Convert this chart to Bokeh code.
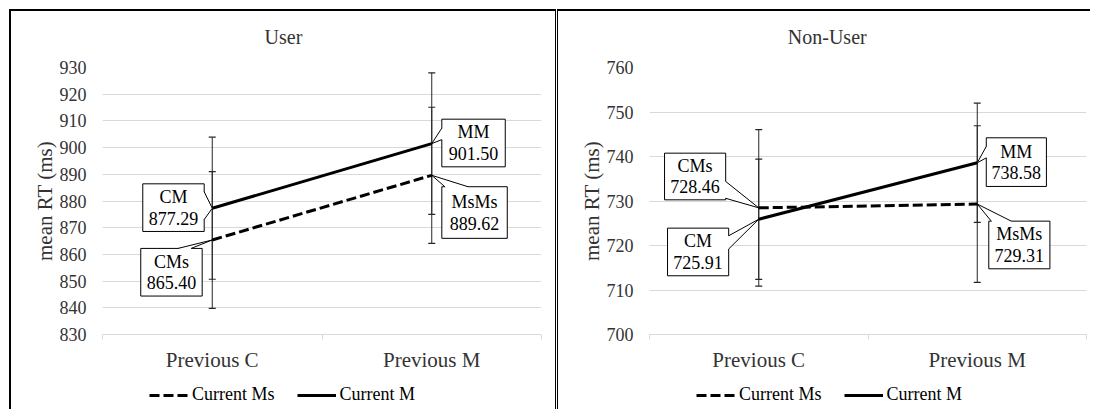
from bokeh.plotting import figure
from bokeh.models import Range1d, FixedTicker, Legend, LegendItem
from bokeh.layouts import row, column
from bokeh.embed import file_html
from bokeh.resources import INLINE
from bokeh.core.properties import value

# ---------------- data ----------------
categories = ["Previous C", "Previous M"]
series_names = ["Current Ms", "Current M"]

user_title = "User"
user_ms = [865.40, 889.62]
user_m = [877.29, 901.50]
user_ms_err = [25.6, 25.5]
user_m_err = [26.6, 26.5]
user_ms_tags = ["CMs", "MsMs"]
user_m_tags = ["CM", "MM"]
user_ticks = [830, 840, 850, 860, 870, 880, 890, 900, 910, 920, 930]

nonuser_title = "Non-User"
nonuser_ms = [728.46, 729.31]
nonuser_m = [725.91, 738.58]
nonuser_ms_err = [17.6, 17.6]
nonuser_m_err = [13.5, 13.4]
nonuser_ms_tags = ["CMs", "MsMs"]
nonuser_m_tags = ["CM", "MM"]
nonuser_ticks = [700, 710, 720, 730, 740, 750, 760]

y_label = "mean RT (ms)"

# ---------------- style / layout ----------------
FONT = "Liberation Serif"
TXT = "#333333"
GRID = "#d9d9d9"
FRAME_W = 436
FRAME_H = 269
TITLE_H = 40
MS_DASH = "10 4"


def dx(px):
    return px * len(categories) / FRAME_W


def main_plot(ms, m, ms_err, m_err, ms_tags, m_tags, ticks, callouts,
              width, mb_right, styles):
    y0, y1 = ticks[0], ticks[-1]
    p = figure(width=width, height=323, x_range=Range1d(0, len(categories)),
               y_range=Range1d(y0, y1), output_backend="svg", title=None,
               toolbar_location=None, min_border_left=91, min_border_right=mb_right,
               min_border_top=16, min_border_bottom=38, styles=styles)
    p.outline_line_color = None
    p.background_fill_color = "white"
    p.border_fill_color = "white"

    xs = [i + 0.5 for i in range(len(categories))]

    def dy(px):
        return -px * (y1 - y0) / FRAME_H

    # axes
    xa = p.xaxis[0]
    xa.ticker = FixedTicker(ticks=xs, minor_ticks=list(range(len(categories) + 1)))
    xa.major_label_overrides = {x: c for x, c in zip(xs, categories)}
    xa.major_tick_out = 0
    xa.major_tick_in = 0
    xa.minor_tick_out = 5
    xa.minor_tick_in = 0
    xa.minor_tick_line_color = GRID
    xa.axis_line_color = GRID
    xa.major_label_standoff = 8
    xa.major_label_text_font = FONT
    xa.major_label_text_font_size = "21px"
    xa.major_label_text_color = TXT

    ya = p.yaxis[0]
    ya.ticker = FixedTicker(ticks=ticks)
    ya.axis_line_color = None
    ya.major_tick_line_color = None
    ya.minor_tick_line_color = None
    ya.major_tick_out = 0
    ya.major_label_standoff = 16
    ya.major_label_text_font = FONT
    ya.major_label_text_font_size = "18px"
    ya.major_label_text_color = TXT
    ya.axis_label = y_label
    ya.axis_label_text_font = FONT
    ya.axis_label_text_font_style = "normal"
    ya.axis_label_text_font_size = "21px"
    ya.axis_label_text_color = TXT
    ya.axis_label_standoff = 0

    p.xgrid.grid_line_color = None
    p.ygrid.ticker = FixedTicker(ticks=ticks)
    p.ygrid.grid_line_color = GRID
    p.ygrid.grid_line_width = 1

    # error bars
    for vals, errs in ((ms, ms_err), (m, m_err)):
        lo = [v - e for v, e in zip(vals, errs)]
        hi = [v + e for v, e in zip(vals, errs)]
        p.segment(xs, lo, xs, hi, line_color="#262626", line_width=1)
        p.scatter(xs + xs, lo + hi, marker="dash", size=7, line_color="#262626",
                  line_width=1.2)

    # series lines
    p.line(xs, ms, line_color="black", line_width=3, line_dash=MS_DASH)
    p.line(xs, m, line_color="black", line_width=3)

    # callouts
    series = {"ms": (ms, ms_tags), "m": (m, m_tags)}
    for c in callouts:
        vals, tags = series[c["s"]]
        i = c["i"]
        px, py = xs[i], vals[i]
        cx, cy = c["off"]
        w, h = c["size"]
        left, right = px + dx(cx - w / 2), px + dx(cx + w / 2)
        top, bottom = py + dy(cy - h / 2), py + dy(cy + h / 2)
        p.quad(left=[left], right=[right], top=[top], bottom=[bottom],
               fill_color="white", line_color="black", line_width=1)
        (bx1, by1), (bx2, by2) = c["base"]

        def inward(bx, by):
            vx, vy = cx - bx, cy - by
            n = (vx * vx + vy * vy) ** 0.5
            return bx + 3 * vx / n, by + 3 * vy / n
        ix1, iy1 = inward(bx1, by1)
        ix2, iy2 = inward(bx2, by2)
        poly = [(ix1, iy1), (bx1, by1), (0, 0), (bx2, by2), (ix2, iy2)]
        p.patch([px + dx(a) for a, b in poly], [py + dy(b) for a, b in poly],
                fill_color="white", line_color=None)
        p.line([px + dx(bx1), px, px + dx(bx2)], [py + dy(by1), py, py + dy(by2)],
               line_color="black", line_width=1)
        p.text([px + dx(cx)] * 2, [py + dy(cy)] * 2, text=[tags[i], f"{vals[i]:.2f}"],
               y_offset=[-10.5, 10.5], text_align="center", text_baseline="middle",
               text_font=value(FONT), text_font_size="18px", text_color="black")
    return p


def strip(width, height, styles):
    q = figure(width=width, height=height, x_range=Range1d(0, len(categories)),
               y_range=Range1d(0, 1), output_backend="svg", toolbar_location=None,
               title=None, x_axis_type=None, y_axis_type=None, min_border=0,
               styles=styles)
    q.outline_line_color = None
    q.grid.visible = False
    q.background_fill_color = "white"
    q.border_fill_color = "white"
    return q


def title_strip(title, width, styles, offset_px):
    q = strip(width, TITLE_H + 2, styles)
    q.text([dx(offset_px)], [0.4], text=[title], text_align="left",
           text_baseline="middle", text_font=value(FONT), text_font_size="20px",
           text_color=TXT)
    return q


def legend_strip(width, styles):
    q = strip(width, 35, styles)
    r_ms = q.line([0, 1], [-2, -2], line_color="black", line_width=3, line_dash=MS_DASH)
    r_m = q.line([0, 1], [-2, -2], line_color="black", line_width=3)
    legend = Legend(items=[LegendItem(label=series_names[0], renderers=[r_ms]),
                           LegendItem(label=series_names[1], renderers=[r_m])],
                    orientation="horizontal", location=(47, 4), glyph_width=39,
                    glyph_height=20, label_height=20, label_standoff=4, spacing=22,
                    padding=0, margin=0, border_line_color=None,
                    background_fill_alpha=0, label_text_font=FONT,
                    label_text_font_size="18px", label_text_color="black")
    q.add_layout(legend)
    return q


# callout geometry: offsets in px from the data point (x right, y down)
user_callouts = [
    dict(s="m", i=0, off=(-38.5, -0.6), size=(61, 48), base=((-8, -16.6), (-8, 11.4))),
    dict(s="ms", i=0, off=(-40.5, 32.5), size=(61, 48), base=((-34, 8.5), (-21, 8.5))),
    dict(s="m", i=1, off=(41.5, -0.6), size=(63, 48), base=((10, -15.6), (10, -4))),
    dict(s="ms", i=1, off=(42.5, 37.5), size=(65, 52), base=((13, 11.5), (36, 11.5))),
]
nonuser_callouts = [
    dict(s="ms", i=0, off=(-63.5, -31.6), size=(61, 47), base=((-33, -26.6), (-33, -9.6))),
    dict(s="m", i=0, off=(-60.5, 33), size=(61, 48), base=((-30, 16.7), (-30, 30))),
    dict(s="m", i=1, off=(39, -0.7), size=(60, 49), base=((9, -16.5), (9, -5))),
    dict(s="ms", i=1, off=(42, 41.2), size=(61, 48), base=((14, 17.2), (34, 17.2))),
]

LB = {"border-left": "2px solid black", "border-right": "1px solid black"}
RB = {"border-left": "1px solid black"}

t1 = title_strip(user_title, 547, dict(LB, **{"border-top": "2px solid black"}), 161)
p1 = main_plot(user_ms, user_m, user_ms_err, user_m_err, user_ms_tags, user_m_tags,
               user_ticks, user_callouts, 547, 17, LB)
l1 = legend_strip(547, LB)

t2 = title_strip(nonuser_title, 533, dict(RB, **{"border-top": "2px solid black"}), 138)
p2 = main_plot(nonuser_ms, nonuser_m, nonuser_ms_err, nonuser_m_err, nonuser_ms_tags,
               nonuser_m_tags, nonuser_ticks, nonuser_callouts, 533, 5, RB)
l2 = legend_strip(533, RB)

layout = row(column(t1, p1, l1), column(t2, p2, l2, margin=(0, 0, 0, 1)),
             margin=(9, 0, 0, 9))
open("out.html", "w").write(file_html(layout, INLINE))
